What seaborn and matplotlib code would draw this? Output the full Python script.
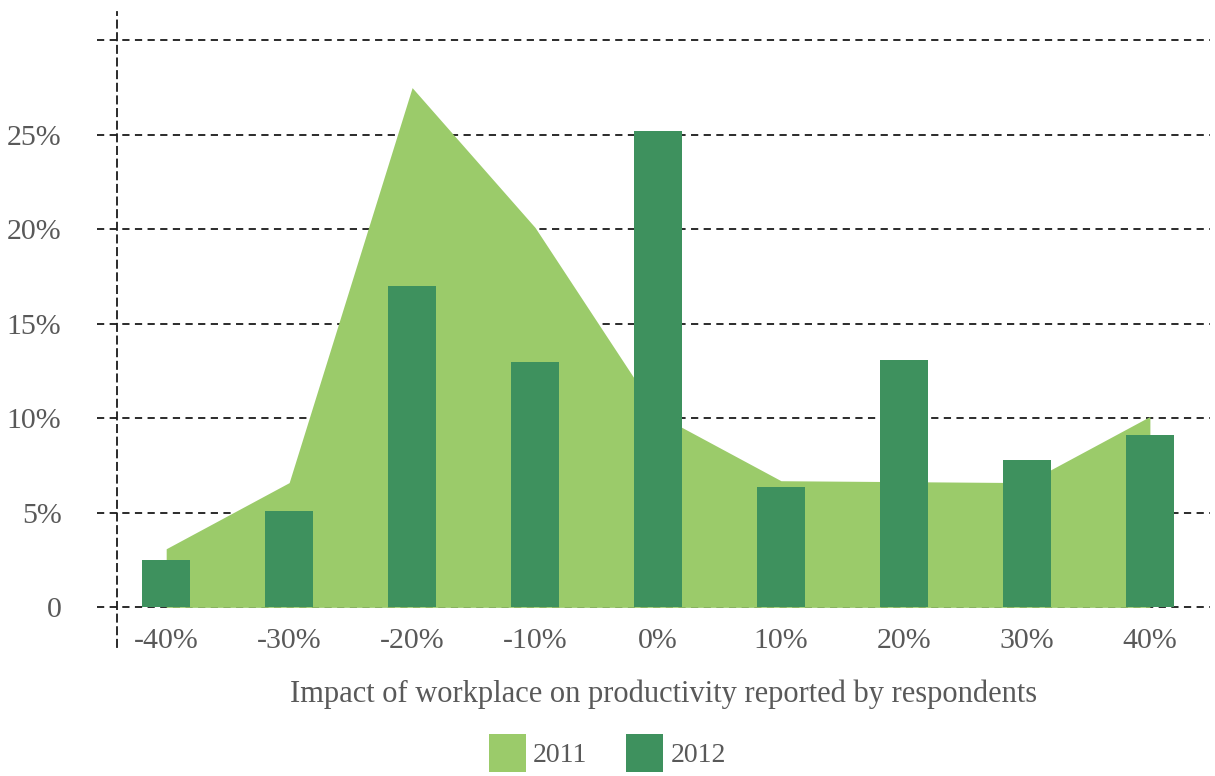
import pandas as pd
import matplotlib.pyplot as plt
from matplotlib.patches import Patch
import seaborn as sns

sns.set_theme(style="white")
plt.rcParams['font.family'] = ['Liberation Serif', 'DejaVu Serif']

# Data
kategorier = ['-40%', '-30%', '-20%', '-10%', '0%', '10%', '20%', '30%', '40%']
verdier_2011 = [3.1, 6.6, 27.5, 20.1, 10.2, 6.7, 6.65, 6.6, 10.1]
verdier_2012 = [2.5, 5.1, 17.0, 13.0, 25.2, 6.35, 13.1, 7.8, 9.1]
y_ticks = [0, 5, 10, 15, 20, 25, 30]
y_labels = ['0', '5%', '10%', '15%', '20%', '25%', '']

lys_gronn = '#9BCB6A'
mork_gronn = '#3E915E'
tekst_farge = '#595959'

df = pd.DataFrame({'kategori': kategorier, '2011': verdier_2011, '2012': verdier_2012})

fig = plt.figure(figsize=(12.15, 7.76), dpi=100)
ax = fig.add_axes([0.0963, 0.1662, 0.8997, 0.8183])

# Gridlines (dashed, reaching a little left of the axis)
for t in y_ticks:
    ax.axhline(t, xmin=-0.018, xmax=1, color='#1a1a1a', lw=1.3,
               ls=(0, (4, 3)), clip_on=False, zorder=0)

# 2011 as area
posisjoner = list(range(len(kategorier)))
ax.fill_between(posisjoner, 0, df['2011'], color=lys_gronn, lw=0, zorder=1)

# 2012 as bars
sns.barplot(data=df, x='kategori', y='2012', color=mork_gronn, saturation=1,
            width=0.39, ax=ax, zorder=2, linewidth=0, edgecolor='none', legend=False)

ax.set_xlim(-0.4, 8.49)
ax.set_ylim(-2.1, 31.5)
ax.set_yticks(y_ticks)
ax.set_yticklabels(y_labels)
ax.tick_params(axis='y', length=0, pad=40, labelsize=21.5, labelcolor=tekst_farge)
ax.tick_params(axis='x', length=0, pad=-14, labelsize=21.5, labelcolor=tekst_farge)

for side in ['top', 'right', 'bottom']:
    ax.spines[side].set_visible(False)
ax.spines['left'].set_linestyle((0, (4, 3)))
ax.spines['left'].set_color('#1a1a1a')
ax.spines['left'].set_linewidth(1.3)

ax.set_ylabel('')
ax.set_xlabel('Impact of workplace on productivity reported by respondents',
              fontsize=22, color=tekst_farge, labelpad=19)

handles = [Patch(color=lys_gronn, lw=0), Patch(color=mork_gronn, lw=0)]
fig.legend(handles, ['2011', '2012'], loc='lower center', bbox_to_anchor=(0.500, -0.027),
           ncol=2, frameon=False, fontsize=20, handlelength=1.33, handleheight=1.7,
           handletextpad=0.25, columnspacing=1.4, labelcolor=tekst_farge)

fig.savefig('out.png', dpi=100)
